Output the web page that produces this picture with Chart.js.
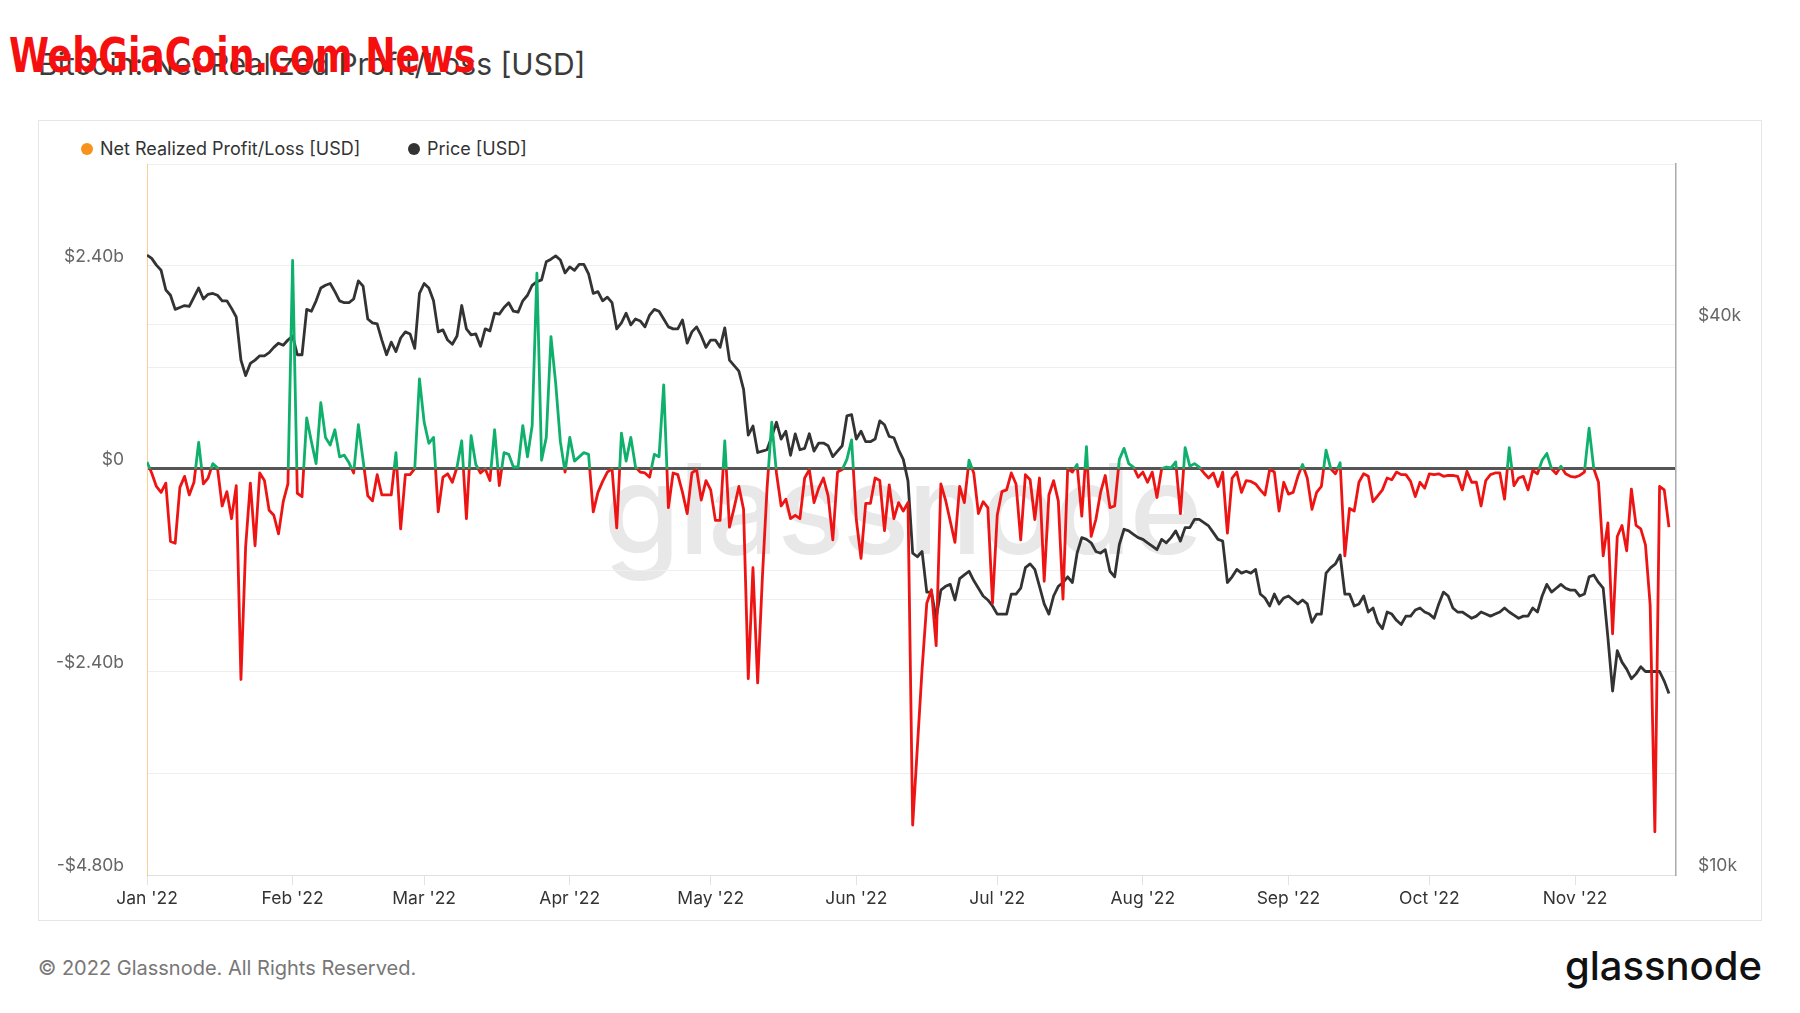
<!DOCTYPE html>
<html>
<head>
<meta charset="utf-8">
<title>Bitcoin: Net Realized Profit/Loss [USD]</title>
<script src="https://cdn.jsdelivr.net/npm/chart.js@4.4.0/dist/chart.umd.min.js"></script>
<style>
  html, body { margin: 0; padding: 0; background: #fff; }
  body { width: 1800px; height: 1013px; position: relative; overflow: hidden; font-family: Inter, "Noto Sans", sans-serif; }
  .title { position: absolute; left: 38px; top: 46px; font-size: 30px; line-height: 36px; color: #3b3b3b; white-space: nowrap; }
  .stamp { position: absolute; left: 9px; top: 28px; font-family: "Liberation Sans Narrow", "DejaVu Sans Condensed", sans-serif; font-weight: bold; font-size: 48px; line-height: 54px; color: #f50f0f; white-space: nowrap; transform: scaleX(0.84); transform-origin: left top; }
  .box { position: absolute; left: 38px; top: 120px; width: 1722px; height: 799px; border: 1px solid #e6e6e6; }
  .wm { position: absolute; left: 603px; top: 434px; font-size: 125px; line-height: 150px; font-weight: 500; letter-spacing: -2px; color: #e8e8e8; white-space: nowrap; }
  .wrap { position: absolute; left: 38px; top: 120px; width: 1724px; height: 801px; }
  .legend span { position: absolute; top: 138px; font-size: 18px; line-height: 22px; color: #333; white-space: nowrap; }
  .legend i { position: absolute; top: 143px; width: 12px; height: 12px; border-radius: 50%; }
  .copy { position: absolute; left: 38px; top: 956px; font-size: 20px; line-height: 24px; color: #777; white-space: nowrap; }
  .logo { position: absolute; right: 38px; top: 942px; font-size: 40px; line-height: 48px; font-weight: 500; color: #111; white-space: nowrap; }
</style>
</head>
<body>
<div class="title">Bitcoin: Net Realized Profit/Loss [USD]</div>
<div class="stamp">WebGiaCoin.com News</div>
<div class="box"></div>
<div class="wm">glassnode</div>
<div class="legend">
  <i style="left:81px;background:#f7931a"></i><span style="left:100px">Net Realized Profit/Loss [USD]</span>
  <i style="left:408px;background:#333"></i><span style="left:427px">Price [USD]</span>
</div>
<div class="wrap"><canvas id="chart"></canvas></div>
<div class="copy">© 2022 Glassnode. All Rights Reserved.</div>
<div class="logo">glassnode</div>
<script>
// daily values, 1 Jan 2022 .. 21 Nov 2022
const nrplBn = [
  0.08, -0.05, -0.21, -0.28, -0.17, -0.86, -0.88, -0.22, -0.09, -0.31,
  -0.16, 0.31, -0.18, -0.11, 0.06, 0.01, -0.44, -0.27, -0.59, -0.20,
  -2.49, -0.92, -0.17, -0.91, -0.05, -0.14, -0.49, -0.55, -0.77, -0.39,
  -0.18, 2.46, -0.29, -0.33, 0.60, 0.32, 0.06, 0.78, 0.37, 0.28,
  0.46, 0.14, 0.16, 0.07, -0.05, 0.52, 0.10, -0.32, -0.38, -0.07,
  -0.31, -0.31, -0.31, 0.19, -0.71, -0.07, -0.07, 0.00, 1.06, 0.55,
  0.30, 0.37, -0.51, -0.10, -0.06, -0.16, 0.02, 0.33, -0.59, 0.39,
  0.05, -0.05, 0.00, -0.14, 0.46, -0.20, 0.19, 0.17, 0.02, 0.02,
  0.51, 0.14, 0.51, 2.31, 0.10, 0.37, 1.56, 1.01, 0.32, -0.04,
  0.37, 0.09, 0.14, 0.19, 0.17, -0.51, -0.28, -0.15, -0.04, 0.00,
  -0.70, 0.42, 0.09, 0.37, 0.02, -0.04, -0.05, -0.10, 0.17, 0.14,
  0.99, -0.46, -0.05, -0.07, -0.28, -0.53, -0.05, -0.01, -0.37, -0.14,
  -0.25, -0.61, -0.61, 0.33, -0.69, -0.46, -0.21, -0.48, -2.48, -1.17,
  -2.53, -1.29, -0.23, 0.55, -0.05, -0.44, -0.36, -0.59, -0.55, -0.59,
  -0.11, -0.01, -0.40, -0.23, -0.11, -0.32, -0.84, -0.04, -0.01, 0.11,
  0.34, -0.60, -1.06, -0.41, -0.41, -0.11, -0.14, -0.73, -0.19, -0.59,
  -0.40, -0.50, -0.40, -4.21, -3.29, -2.37, -1.59, -1.43, -2.09, -0.18,
  -0.37, -0.62, -0.87, -0.21, -0.40, 0.10, -0.05, -0.53, -0.39, -0.46,
  -1.59, -0.55, -0.27, -0.25, -0.05, -0.18, -0.84, -0.07, -0.13, -0.60,
  -0.11, -1.33, -0.31, -0.14, -0.38, -1.54, 0.00, -0.04, 0.05, -0.56,
  0.26, -0.80, -0.60, -0.28, -0.08, -0.46, -0.44, 0.11, 0.24, 0.06,
  0.02, -0.10, -0.04, -0.16, -0.04, -0.34, 0.00, 0.02, 0.01, 0.08,
  -0.53, 0.25, 0.03, 0.06, 0.02, -0.05, -0.11, -0.05, -0.21, -0.04,
  -0.76, -0.11, -0.04, -0.28, -0.14, -0.15, -0.18, -0.25, -0.31, -0.01,
  -0.04, -0.50, -0.16, -0.30, -0.28, -0.09, 0.05, -0.11, -0.48, -0.28,
  -0.21, 0.22, 0.00, -0.06, 0.07, -1.03, -0.47, -0.50, -0.16, -0.06,
  -0.09, -0.39, -0.32, -0.25, -0.11, -0.13, -0.04, -0.07, -0.07, -0.15,
  -0.33, -0.16, -0.23, -0.06, -0.07, -0.06, -0.09, -0.08, -0.08, -0.09,
  -0.25, -0.03, -0.16, -0.16, -0.44, -0.14, -0.07, -0.05, -0.05, -0.36,
  0.25, -0.20, -0.11, -0.09, -0.25, -0.02, -0.06, 0.10, 0.18, 0.00,
  -0.06, 0.03, -0.06, -0.09, -0.10, -0.08, -0.04, 0.48, 0.00, -0.16,
  -1.03, -0.64, -1.95, -0.80, -0.67, -0.97, -0.24, -0.67, -0.71, -0.90,
  -1.61, -4.29, -0.21, -0.25, -0.69
];

const priceK = [
  47.7, 47.3, 46.5, 45.9, 43.7, 43.1, 41.6, 41.8, 42.0, 41.9,
  42.9, 43.9, 42.7, 43.2, 43.3, 43.1, 42.5, 42.5, 41.7, 40.8,
  36.6, 35.2, 36.3, 36.6, 37.0, 37.0, 37.3, 37.8, 38.2, 38.0,
  38.5, 38.9, 37.1, 37.1, 41.6, 41.4, 42.5, 43.9, 44.2, 44.4,
  43.5, 42.5, 42.3, 42.3, 42.7, 44.7, 44.1, 40.6, 40.2, 40.1,
  38.5, 37.1, 38.3, 37.4, 38.7, 39.3, 39.1, 37.7, 43.3, 44.4,
  43.9, 42.5, 39.3, 39.5, 38.5, 38.1, 38.9, 42.0, 39.6, 39.0,
  39.1, 37.9, 39.6, 39.4, 41.2, 41.1, 41.8, 42.3, 41.4, 41.3,
  42.5, 43.1, 44.2, 44.6, 44.8, 46.9, 47.2, 47.6, 47.1, 45.6,
  46.3, 45.9, 46.6, 46.6, 45.5, 43.3, 43.5, 42.5, 42.9, 42.3,
  39.6, 40.2, 41.2, 40.0, 40.6, 40.4, 39.8, 41.0, 41.6, 41.4,
  40.6, 39.8, 39.6, 39.6, 40.5, 38.2, 39.3, 39.8, 38.9, 37.8,
  38.5, 38.5, 37.8, 39.7, 36.6, 36.1, 35.6, 34.0, 30.3, 31.0,
  29.0, 29.1, 29.2, 30.2, 31.3, 30.0, 30.6, 28.8, 30.4, 29.2,
  29.3, 30.4, 29.1, 29.7, 29.7, 29.5, 28.7, 29.1, 29.5, 31.8,
  31.9, 30.0, 30.6, 29.8, 29.8, 30.0, 31.4, 31.1, 30.2, 30.1,
  29.2, 28.5, 27.0, 22.5, 22.3, 22.6, 20.4, 20.4, 19.1, 20.5,
  20.7, 20.8, 20.0, 21.1, 21.3, 21.5, 21.0, 20.6, 20.2, 20.0,
  19.7, 19.3, 19.3, 19.3, 20.3, 20.3, 20.6, 21.7, 21.9, 21.6,
  20.7, 19.8, 19.3, 20.2, 20.7, 20.9, 21.2, 20.9, 22.5, 23.4,
  23.3, 23.1, 22.6, 22.5, 22.7, 21.5, 21.2, 23.0, 23.9, 23.8,
  23.6, 23.4, 23.3, 23.1, 22.9, 22.7, 23.3, 23.1, 23.4, 23.8,
  23.2, 24.0, 24.0, 24.5, 24.5, 24.3, 24.1, 23.7, 23.3, 23.2,
  20.9, 21.2, 21.6, 21.4, 21.5, 21.4, 21.6, 20.3, 20.1, 19.7,
  20.3, 19.8, 20.1, 20.2, 20.0, 19.8, 20.0, 19.8, 18.9, 19.3,
  19.3, 21.4, 21.7, 21.9, 22.4, 20.3, 20.3, 19.7, 19.8, 20.2,
  19.4, 19.6, 18.9, 18.6, 19.4, 19.3, 19.0, 18.8, 19.2, 19.2,
  19.5, 19.6, 19.4, 19.3, 19.1, 19.8, 20.4, 20.2, 19.6, 19.4,
  19.4, 19.25, 19.1, 19.2, 19.4, 19.3, 19.2, 19.3, 19.4, 19.6,
  19.4, 19.25, 19.1, 19.2, 19.2, 19.6, 19.4, 20.2, 20.8, 20.4,
  20.6, 20.8, 20.6, 20.5, 20.5, 20.2, 20.3, 21.2, 21.3, 20.9,
  20.6, 18.2, 15.9, 17.6, 17.1, 16.8, 16.4, 16.6, 16.9, 16.7,
  16.7, 16.7, 16.7, 16.3, 15.8
];

// day index of the first of each month and its label
const monthStart = [0, 31, 59, 90, 120, 151, 181, 212, 243, 273, 304];
const monthLabels = ["Jan '22", "Feb '22", "Mar '22", "Apr '22", "May '22", "Jun '22", "Jul '22", "Aug '22", "Sep '22", "Oct '22", "Nov '22"];

const leftTicks = [-4.8, -3.6, -2.4, -1.2, 0, 1.2, 2.4, 3.6];
const leftLabeled = [-4.8, -2.4, 0, 2.4];
const rightTicks = [10, 20, 40, 60];
const rightLabeled = [10, 40];

const green = '#0fb06c';
const red = '#ee1414';

function signColor(context) {
  const chart = context.chart;
  const area = chart.chartArea;
  if (!area) return red;
  const zeroY = chart.scales.y.getPixelForValue(0);
  const stop = Math.min(1, Math.max(0, (zeroY - area.top) / (area.bottom - area.top)));
  const g = chart.ctx.createLinearGradient(0, area.top, 0, area.bottom);
  g.addColorStop(0, green);
  g.addColorStop(stop, green);
  g.addColorStop(stop, red);
  g.addColorStop(1, red);
  return g;
}

function fmtBn(v) {
  if (!leftLabeled.includes(v)) return '';
  if (v === 0) return '$0';
  return (v < 0 ? '-$' : '$') + Math.abs(v).toFixed(2) + 'b';
}

Chart.defaults.font.family = 'Inter, "Noto Sans", sans-serif';

new Chart(document.getElementById('chart'), {
  type: 'line',
  data: {
    datasets: [
      {
        label: 'Net Realized Profit/Loss [USD]',
        data: nrplBn.map((v, i) => ({ x: i, y: v })),
        yAxisID: 'y',
        borderColor: signColor,
        borderWidth: 2.8,
        borderJoinStyle: 'round',
        pointRadius: 0,
        tension: 0
      },
      {
        label: 'Price [USD]',
        data: priceK.map((v, i) => ({ x: i, y: v })),
        yAxisID: 'y1',
        borderColor: '#333333',
        borderWidth: 2.8,
        borderJoinStyle: 'round',
        pointRadius: 0,
        tension: 0
      }
    ]
  },
  options: {
    responsive: true,
    maintainAspectRatio: false,
    animation: false,
    layout: { padding: { top: 44, left: 0, right: 0, bottom: 0 } },
    plugins: { legend: { display: false }, tooltip: { enabled: false } },
    scales: {
      x: {
        type: 'linear',
        min: 0,
        max: 325.5,
        afterBuildTicks: s => { s.ticks = monthStart.map(v => ({ value: v })); },
        afterFit: s => { s.height = 46; },
        ticks: {
          callback: v => monthLabels[monthStart.indexOf(v)],
          color: '#333',
          font: { size: 17.5 },
          padding: 3,
          maxRotation: 0,
          autoSkip: false
        },
        grid: { drawOnChartArea: false, color: '#e3e3e3', tickLength: 10 },
        border: { color: '#e0e0e0' }
      },
      y: {
        position: 'left',
        min: -4.8,
        max: 3.6,
        afterBuildTicks: s => { s.ticks = leftTicks.map(v => ({ value: v })); },
        afterFit: s => { s.width = 109; },
        ticks: { callback: fmtBn, color: '#666', font: { size: 17.5 }, padding: 23, labelOffset: -9 },
        grid: {
          drawTicks: false,
          color: c => (c.tick && c.tick.value === 0 ? '#555' : '#efefef'),
          lineWidth: c => (c.tick && c.tick.value === 0 ? 3 : 1)
        },
        border: { color: 'rgba(247,147,26,0.45)', width: 1 }
      },
      y1: {
        type: 'logarithmic',
        position: 'right',
        min: 10,
        max: 60,
        afterBuildTicks: s => { s.ticks = rightTicks.map(v => ({ value: v })); },
        afterFit: s => { s.width = 86; },
        ticks: {
          callback: v => (rightLabeled.includes(v) ? '$' + v + 'k' : ''),
          color: '#666',
          font: { size: 17.5 },
          padding: 22,
          labelOffset: -9
        },
        grid: { drawTicks: false, color: '#efefef' },
        border: { color: '#aaaaaa', width: 1.5 }
      }
    }
  }
});
</script>
</body>
</html>
